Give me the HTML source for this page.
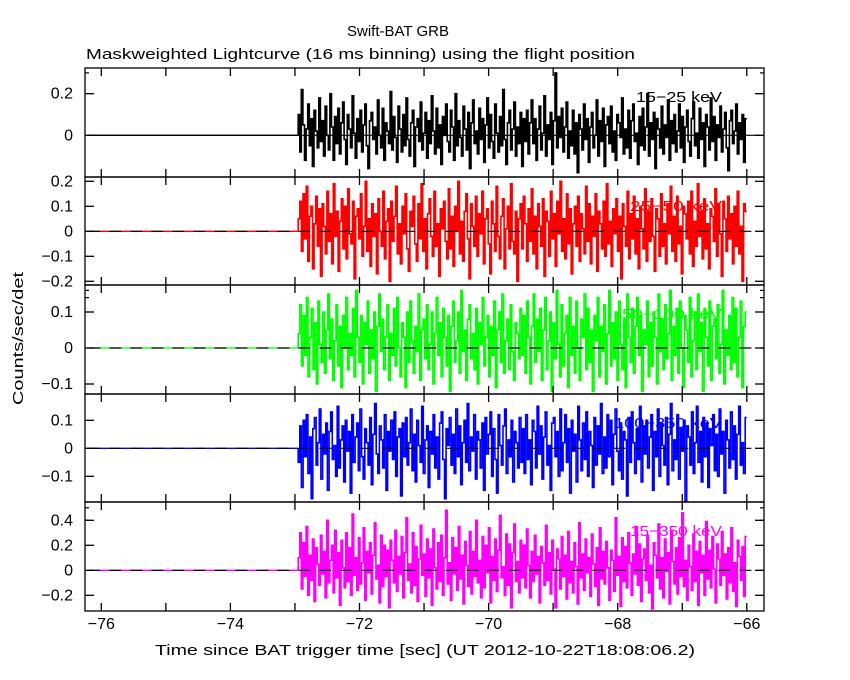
<!DOCTYPE html>
<html><head><meta charset="utf-8"><style>
body{margin:0;background:#fff;}
svg{display:block;font-family:"Liberation Sans","DejaVu Sans",sans-serif;}
</style></head><body>
<svg id="chart" width="850" height="680" viewBox="0 0 850 680" xmlns="http://www.w3.org/2000/svg">
<rect width="850" height="680" fill="#fff"/>
<text x="398" y="36" font-size="15" text-anchor="middle">Swift-BAT GRB</text>
<text x="86" y="59" font-size="15" textLength="549" lengthAdjust="spacingAndGlyphs">Maskweighted Lightcurve (16 ms binning) using the flight position</text>
<text transform="translate(23,405) rotate(-90)" font-size="15" textLength="133" lengthAdjust="spacingAndGlyphs">Counts/sec/det</text>
<text x="155" y="655" font-size="15" textLength="540" lengthAdjust="spacingAndGlyphs">Time since BAT trigger time [sec] (UT 2012-10-22T18:08:06.2)</text>
<g id="plots"></g>
</svg>
<script>
const xTicks=[-76,-75,-74,-73,-72,-71,-70,-69,-68,-67,-66];
const xTickLabels=["−76","","−74","","−72","","−70","","−68","","−66"];
const dataStart=-72.95, dataEnd=-66.0;
const bandNames=["15-25 keV","25-50 keV","50-100 keV","100-350 keV","15-350 keV"];
const bandLabels=["15−25 keV","25−50 keV","50−100 keV","100−350 keV","15−350 keV"];
const bandColors=["#000","#f00","#0f0","#00f","#f0f"];
const yMajor0=[0.2,0]; const yLab0=["0.2","0"];
const yMajor1=[0.2,0.1,0,-0.1,-0.2]; const yLab1=["0.2","0.1","0","−0.1","−0.2"];
const yMajor2=[0.1,0,-0.1]; const yLab2=["0.1","0","−0.1"];
const yMajor3=[0.1,0,-0.1]; const yLab3=["0.1","0","−0.1"];
const yMajor4=[0.4,0.2,0,-0.2]; const yLab4=["0.4","0.2","0","−0.2"];
const rate0a=[10,-8,22,5,-12,3,15,-5,8,-15,12,2,-6,18,-3,7,-10,14,0,-7,20,4,-12,9,-4,13,-9,6,16,-2,-14,10,3,-6,19,1,-11,8,-3,12,-8,5,15,-5,-16,7,11,-2,4,-9,17,0,-6,13,-12,6,2,-4,21,-7,9,-1,-13,14,3,-8,10,-5,18,-2,-10,6,12,-15,4,8,-3,16,-7,1,11,-11,7,-4,19,2,-9,13,-6,5,-14,9,0,15,-3,-8,12,4,-12,20,-5,7,-1,-10,14,3,-7,11,-16,6,17,-4,2,-9,13,-2,8,-13,5,18,-6,10,-3,-11,15,1,-8,9,-5,22,-2,-14,6,12,-7,3,16,-10,4,-4,11,-15,8];
const rate0b=[-3,12,-9,6,17,-4,8,-12,3,14,-7,1,19,-10,5,-2,11,-14,7,30,-6,9,-1,13,-8,4,16,-11,2,-5,12,-9,6,-18,10,3,-7,15,-2,8,-13,4,11,-6,0,17,-10,7,-3,13,-15,5,9,-4,14,-8,2,-12,10,6,-1,18,-9,3,-6,12,-11,7,15,-3,1,-14,9,-5,13,-7,4,20,-10,6,-2,11,-16,8,3,-6,14,-9,5,-1,17,-12,7,-4,10,-8,2,15,-6,9,-13,4,12,-3,-10,8,16,-5,1,-11,13,-2,6,-15,10,4,-7,18,-3,9,-12,5,-1,14,-8,3,11,-6,-17,7,12,-4,2,15,-9,6,-2,10,-13,8];
const rate1a=[5,12,-8,15,-3,18,-12,6,10,-15,3,14,-6,9,-18,11,2,-9,16,-4,7,-13,19,-2,8,-16,4,13,-7,10,-11,17,-1,-5,12,-19,6,9,-3,15,-10,2,20,-8,5,-14,11,-2,7,-17,13,0,-6,16,-11,4,9,-20,12,-4,6,18,-9,3,-13,10,-1,15,-7,-16,8,2,14,-5,-12,11,-3,19,-8,5,-15,7,13,-2,-10,16,-6,3,-18,9,1,12,-4,-11,17,-7,6,-14,10,0,20,-9,4,-12,8,15,-3,-19,11,2,-6,14,-10,7,-1,16,-13,5,9,-5,-17,12,3,-8,18,-2,-11,6,13,-15,1,10,-7,19,-4,-9,8,-20,5,11];
const rate1b=[-7,14,3,-12,9,-4,17,-9,6,-15,11,2,-6,13,-18,8,4,-10,16,-3,7,-14,12,-1,20,-8,5,-11,15,-5,9,-17,3,10,-6,14,-12,7,1,-9,18,-4,11,-13,6,-2,15,-16,8,3,-7,12,-10,19,-5,4,-14,9,-1,13,-8,6,-19,11,2,-6,16,-11,7,-3,14,-9,5,-15,10,1,-7,17,-12,8,-4,13,-2,-16,9,5,-10,15,-6,3,-13,11,-1,18,-8,6,-12,14,-5,2,-17,10,7,-3,12,-9,16,-14,4,-6,19,-2,8,-11,13,-7,3,-15,9,6,-4,17,-10,11,-1,-18,12,5,-8,14,-3,7,-13,10,-6,16,-9,2,-20,11,8];
const rate2a=[4,12,-5,9,-2,14,-8,3,11,-6,7,-10,13,1,-4,10,-7,5,15,-3,8,-9,2,12,-5,6,-11,9,0,14,-6,4,-2,11,-8,16,3,-4,9,-10,7,1,13,-7,5,-3,10,-12,6,15,-1,8,-6,3,12,-9,4,-2,11,-5,14,0,-8,7,3,-11,10,-4,13,2,-7,6,-1,15,-9,5,8,-3,12,-6,1,10,-10,4,14,-2,7,-8,11,3,-5,9,-12,6,13,-4,2,10,-7,16,-1,5,-9,8,12,-3,4,-6,11,-10,7,1,14,-5,3,9,-8,6,-2,13,-11,5,10,-4,15,-7,2,8,-6,12,-1,-9,7,4,-3,11];
const rate2b=[-2,9,-7,13,3,-10,6,15,-4,8,-1,11,-9,5,14,-6,2,10,-12,7,-3,16,1,-8,12,-5,4,9,-11,14,-2,6,-7,13,0,-9,8,3,15,-6,11,-4,5,-12,9,2,14,-8,6,-1,12,-10,4,16,-5,7,-3,10,-9,13,1,-6,8,-11,15,3,-4,11,-7,6,14,-2,9,-12,5,1,13,-8,7,-5,10,3,-10,15,-1,8,-6,12,-3,4,16,-9,6,-2,11,-7,13,0,-11,9,5,-4,14,-8,2,10,-6,15,-1,7,-12,11,3,-5,13,-9,6,8,-3,12,-7,1,16,-10,5,-2,9,-6,14,-4,11,-8,3,13,-11,6,10];
const rate3a=[-5,8,-14,10,-3,12,-9,4,-18,7,11,-6,2,14,-11,5,-2,9,-15,6,13,-4,1,-10,15,-7,3,8,-12,10,-1,6,-16,12,-5,4,9,-8,14,-3,-11,7,2,-6,11,-13,5,16,-2,-9,8,3,-7,12,-15,6,-1,10,-4,13,-10,4,7,-17,9,-3,11,-6,2,14,-8,5,-12,10,1,-5,15,-9,3,8,-14,6,-2,12,-7,4,-11,9,13,-4,-18,7,1,11,-6,5,-9,14,-3,8,-13,2,10,-5,16,-8,4,-1,12,-11,6,3,-7,9,-15,11,-2,5,13,-10,7,-4,-16,12,1,-6,8,14,-9,3,-3,10,-12,6,2,-7,11,-5];
const rate3b=[7,-9,12,-4,3,-13,10,6,-7,15,-2,8,-11,4,13,-6,1,-15,9,11,-3,6,-10,14,-8,2,12,-5,7,-16,10,-1,5,-12,15,3,-8,9,-4,13,-10,6,1,-14,11,-6,8,-2,16,-9,4,-7,12,-3,10,-13,5,14,-1,-8,9,-11,6,3,-17,11,-5,13,2,-9,7,-4,15,-12,8,-2,10,-7,4,12,-15,6,-3,14,-10,9,1,-6,11,-13,5,16,-8,3,-4,12,-11,7,-1,10,-19,8,4,-6,13,-9,2,15,-5,6,-12,11,-3,9,-14,7,1,12,-8,5,-10,14,-2,6,-16,10,3,-7,13,-4,8,-11,5,15,-6,2,-9,11];
const rate4a=[10,30,-15,22,-5,35,-20,12,-8,25,-25,18,5,-12,28,-3,15,-22,40,-10,8,20,-18,32,-6,14,-28,24,2,-14,30,-9,18,-20,45,-4,10,-16,26,-11,6,34,-24,15,-2,22,-19,12,38,-7,4,-26,28,-13,20,-5,16,-30,24,8,-10,32,-17,11,-3,27,-22,14,42,-8,5,-18,30,-12,19,-25,9,36,-4,13,-21,25,-6,17,-28,33,2,-15,22,-9,28,-20,10,48,-11,6,-24,26,-3,18,-16,35,-7,12,-27,23,4,-13,31,-19,15,-5,40,-10,8,-22,27,-14,20,-2,34,-26,11,-8,25,-17,16,44,-6,3,-20,29,-12,21,-30,14,37,-9,7,-18,24];
const rate4b=[-6,20,-14,33,4,-22,15,-9,28,-3,11,-26,19,6,-12,36,-8,14,-19,24,1,-30,17,9,-15,27,-5,12,-23,31,-10,7,-18,22,3,-27,38,-6,13,-16,25,-2,10,-21,29,5,-13,18,-28,34,-7,15,-11,23,2,-24,16,8,-17,42,-4,11,-29,26,-9,19,-14,30,6,-20,13,-3,35,-12,21,-25,9,17,-8,28,-18,4,-31,22,12,-6,37,-15,10,-22,25,-1,14,-27,32,7,-11,18,-19,26,-5,46,-13,8,-24,20,3,-16,29,-9,15,-28,23,-2,12,-20,39,-7,16,-14,27,1,-26,21,9,-12,31,-4,13,-23,18,-10,34,-17,6,-29,24,11,-8,19,-21,27];

const NS="http://www.w3.org/2000/svg";
const L=85,R=764;
function xs(t){return 101.3+(t+76)*64.55;}
const panels=[
 {top:68,bot:177,y0:135.3,ppu:208,major:yMajor0,labs:yLab0,minor:0.1,data:rate0a.concat(rate0b)},
 {top:177,bot:285,y0:231.3,ppu:250,major:yMajor1,labs:yLab1,minor:0.02,data:rate1a.concat(rate1b)},
 {top:285,bot:394,y0:348,ppu:360,major:yMajor2,labs:yLab2,minor:0.02,data:rate2a.concat(rate2b)},
 {top:394,bot:502,y0:448.3,ppu:280,major:yMajor3,labs:yLab3,minor:0.02,data:rate3a.concat(rate3b)},
 {top:502,bot:611,y0:570.3,ppu:125,major:yMajor4,labs:yLab4,minor:0.1,data:rate4a.concat(rate4b)}
];
const labelW=[86,92,100,108,92];
const g=document.getElementById('plots');
function mk(tag,attrs,parent){const e=document.createElementNS(NS,tag);for(const k in attrs)e.setAttribute(k,attrs[k]);(parent||g).appendChild(e);return e;}
panels.forEach((p,i)=>{
 const pg=mk('g',{});
 
 
 const ys=v=>p.y0-v*p.ppu;
 const pre=mk('line',{x1:xs(-76.2),x2:xs(dataStart),y1:ys(0),y2:ys(0),stroke:bandColors[i],'stroke-width':1.3},pg);
 
 
 const n=p.data.length,w=(dataEnd-dataStart)/n;
 let d='M'+xs(dataStart).toFixed(1)+' '+ys(0).toFixed(1);
 p.data.forEach((v,k)=>{const a=xs(dataStart+k*w),b=xs(dataStart+(k+1)*w),y=ys(v/100);d+='L'+a.toFixed(1)+' '+y.toFixed(1)+'L'+b.toFixed(1)+' '+y.toFixed(1);});
 const path=mk('path',{d:d,fill:'none',stroke:bandColors[i],'stroke-width':1.6},pg);
 
 
 const z=mk('line',{x1:xs(-76.2),x2:R,y1:ys(0),y2:ys(0),stroke:'#000','stroke-width':1.2,'stroke-dasharray':i==0?'none':'12,9'},pg);
 
 
 const fr=mk('rect',{x:L,y:p.top,width:R-L,height:p.bot-p.top,fill:'none',stroke:'#000','stroke-width':1.3},pg);
 
 
 xTicks.forEach(t=>{const x=xs(t);mk('line',{x1:x,x2:x,y1:p.top,y2:p.top+8,stroke:'#000','stroke-width':1.3},pg);mk('line',{x1:x,x2:x,y1:p.bot,y2:p.bot-8,stroke:'#000','stroke-width':1.3},pg);});
 const lo=(p.y0-p.bot)/p.ppu*-1,hi=(p.y0-p.top)/p.ppu;
 for(let v=Math.ceil(lo/p.minor)*p.minor;v<=hi+1e-9;v+=p.minor){const y=ys(v);mk('line',{x1:L,x2:L+4,y1:y,y2:y,stroke:'#000','stroke-width':1.2},pg);mk('line',{x1:R,x2:R-4,y1:y,y2:y,stroke:'#000','stroke-width':1.2},pg);}
 p.major.forEach((v,k)=>{const y=ys(v);mk('line',{x1:L,x2:L+9,y1:y,y2:y,stroke:'#000','stroke-width':1.3},pg);mk('line',{x1:R,x2:R-9,y1:y,y2:y,stroke:'#000','stroke-width':1.3},pg);
  const t=mk('text',{x:73,y:y+5,'font-size':16,'text-anchor':'end'},pg);t.textContent=p.labs[k];
  
  });
 const lb=mk('text',{x:722-labelW[i],y:p.top+34,'font-size':15,fill:bandColors[i],textLength:labelW[i],lengthAdjust:'spacingAndGlyphs'},pg);
 lb.textContent=bandLabels[i];
 
 
});
xTicks.forEach((t,k)=>{if(!xTickLabels[k])return;const e=mk('text',{x:xs(t),y:629,'font-size':16,'text-anchor':'middle'});e.textContent=xTickLabels[k];
 
 });
</script>
</body></html>
